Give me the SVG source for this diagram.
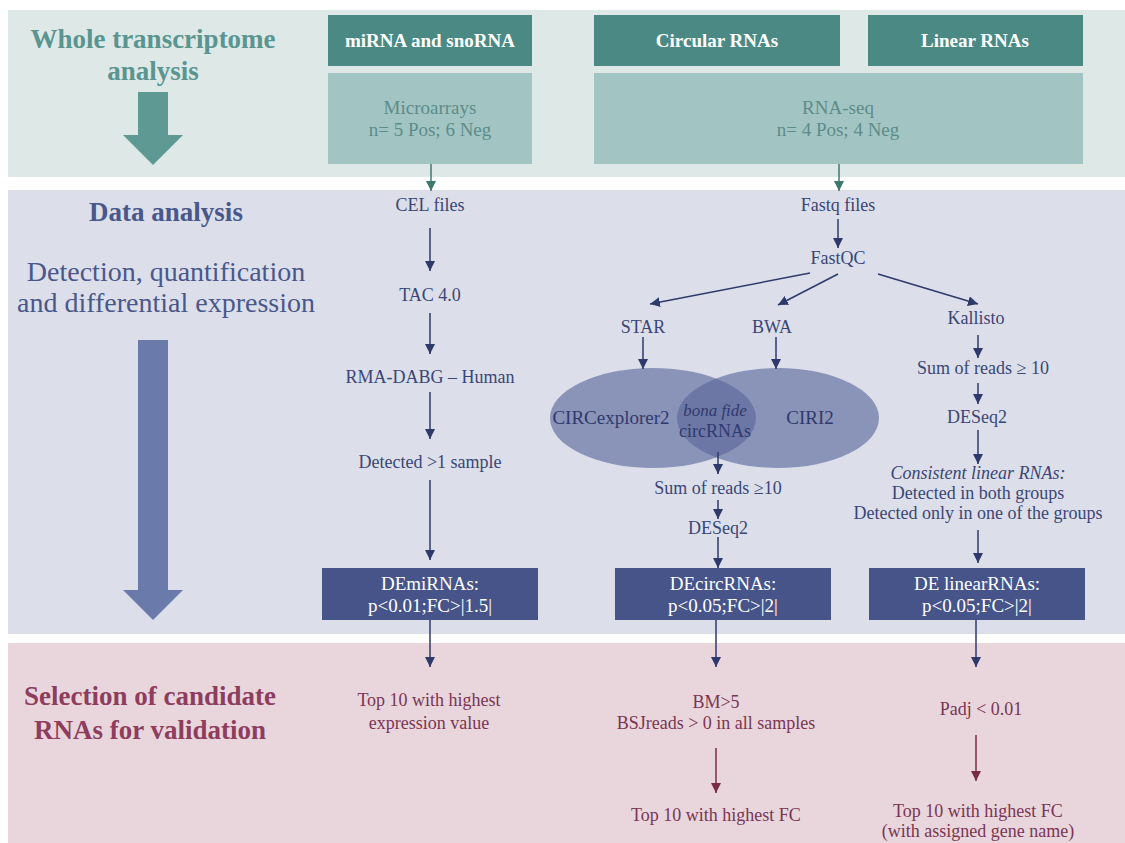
<svg xmlns="http://www.w3.org/2000/svg" width="1125" height="843" viewBox="0 0 1125 843">
<style>
text{font-family:"Liberation Serif","Times New Roman",serif;text-anchor:middle;}
.hdr{fill:#4b8a84;}
.sub{fill:#a2c5c3;}
.hdrt{fill:#ffffff;font-weight:bold;font-size:19px;}
.subt{fill:#5d8c89;font-size:19px;}
.bt{fill:#3a4676;font-size:18px;}
.pt{fill:#7a3552;font-size:18px;}
.de{fill:#46548a;}
.det{fill:#ffffff;font-size:19px;}
.ab{stroke:#2e3a6b;stroke-width:1.5;fill:none;marker-end:url(#mb);}
.ag{stroke:#3d7a6e;stroke-width:1.5;fill:none;marker-end:url(#mg);}
.am{stroke:#7b2c45;stroke-width:1.5;fill:none;marker-end:url(#mm);}
.ell{fill:#5b679c;fill-opacity:0.63;}
</style>
<defs>
<marker id="mb" markerUnits="userSpaceOnUse" markerWidth="10" markerHeight="10" refX="10" refY="5" orient="auto"><path d="M0,0 L10,5 L0,10 z" fill="#2e3a6b"/></marker>
<marker id="mg" markerUnits="userSpaceOnUse" markerWidth="10" markerHeight="10" refX="10" refY="5" orient="auto"><path d="M0,0 L10,5 L0,10 z" fill="#3d7a6e"/></marker>
<marker id="mm" markerUnits="userSpaceOnUse" markerWidth="10" markerHeight="10" refX="10" refY="5" orient="auto"><path d="M0,0 L10,5 L0,10 z" fill="#7b2c45"/></marker>
</defs>
<rect width="1125" height="843" fill="#ffffff"/>
<!-- bands -->
<g id="band-top">
<rect x="8" y="10" width="1117" height="167" fill="#dde8e7"/>
<text x="153" y="48" font-size="27" font-weight="bold" fill="#5a9590">Whole transcriptome</text>
<text x="153" y="80" font-size="27" font-weight="bold" fill="#5a9590">analysis</text>
<path d="M138,92 H168 V135 H183 L153,165 L123,135 H138 Z" fill="#5e9994"/>
</g>
<g id="band-mid">
<rect x="8" y="190" width="1117" height="444" fill="#dcdfea"/>
<text x="166" y="221" font-size="27" font-weight="bold" fill="#4a578a">Data analysis</text>
<text x="166" y="281" font-size="28" fill="#4a578a">Detection, quantification</text>
<text x="166" y="312" font-size="28" fill="#4a578a">and differential expression</text>
<path d="M138,340 H168 V590 H183 L153,620 L123,590 H138 Z" fill="#6a7aaa"/>
</g>
<g id="band-bot">
<rect x="8" y="643" width="1117" height="200" fill="#e9d6dd"/>
<text x="150" y="705" font-size="27" font-weight="bold" fill="#8e3d5c">Selection of candidate</text>
<text x="150" y="739" font-size="27" font-weight="bold" fill="#8e3d5c">RNAs for validation</text>
</g>
<!-- header nodes -->
<g id="h-mirna"><rect class="hdr" x="328" y="15" width="204" height="51"/><text class="hdrt" x="430" y="47">miRNA and snoRNA</text></g>
<g id="h-circ"><rect class="hdr" x="594" y="15" width="246" height="51"/><text class="hdrt" x="717" y="47">Circular RNAs</text></g>
<g id="h-lin"><rect class="hdr" x="868" y="15" width="215" height="51"/><text class="hdrt" x="975" y="47">Linear RNAs</text></g>
<g id="microarrays"><rect class="sub" x="328" y="73" width="204" height="91"/><text class="subt" x="430" y="114">Microarrays</text><text class="subt" x="430" y="136">n= 5 Pos; 6 Neg</text></g>
<g id="rnaseq"><rect class="sub" x="594" y="73" width="489" height="91"/><text class="subt" x="838" y="114">RNA-seq</text><text class="subt" x="838" y="136">n= 4 Pos; 4 Neg</text></g>
<!-- venn -->
<g id="venn">
<ellipse class="ell" cx="653" cy="418" rx="103" ry="50"/>
<ellipse class="ell" cx="778" cy="418" rx="101" ry="50"/>
<text x="611" y="424" font-size="19" fill="#2f3a6e">CIRCexplorer2</text>
<text x="715" y="416" font-size="17" font-style="italic" fill="#2f3a6e">bona fide</text>
<text x="715" y="437" font-size="18" fill="#2f3a6e">circRNAs</text>
<text x="810" y="424" font-size="19" fill="#2f3a6e">CIRI2</text>
</g>
<!-- microarray column -->
<g id="cel"><text class="bt" x="430" y="211">CEL files</text></g>
<g id="tac"><text class="bt" x="430" y="301">TAC 4.0</text></g>
<g id="rma"><text class="bt" x="430" y="383">RMA-DABG – Human</text></g>
<g id="detected"><text class="bt" x="430" y="468" font-size="17">Detected &gt;1 sample</text></g>
<g id="demirna"><rect class="de" x="322" y="568" width="216" height="52"/><text class="det" x="430" y="590">DEmiRNAs:</text><text class="det" x="430" y="612">p&lt;0.01;FC&gt;|1.5|</text></g>
<g id="top10-mi"><text class="pt" x="429" y="706">Top 10 with highest</text><text class="pt" x="429" y="729">expression value</text></g>
<!-- RNA-seq column -->
<g id="fastq"><text class="bt" x="838" y="211">Fastq files</text></g>
<g id="fastqc"><text class="bt" x="838" y="264">FastQC</text></g>
<g id="star"><text class="bt" x="643" y="333">STAR</text></g>
<g id="bwa"><text class="bt" x="772" y="333">BWA</text></g>
<g id="kallisto"><text class="bt" x="976" y="324">Kallisto</text></g>
<g id="sum-c"><text class="bt" x="718" y="494">Sum of reads ≥10</text></g>
<g id="deseq-c"><text class="bt" x="718" y="534">DESeq2</text></g>
<g id="decirc"><rect class="de" x="615" y="568" width="216" height="52"/><text class="det" x="723" y="590">DEcircRNAs:</text><text class="det" x="723" y="612">p&lt;0.05;FC&gt;|2|</text></g>
<g id="bm"><text class="pt" x="716" y="708">BM&gt;5</text><text class="pt" x="716" y="729">BSJreads &gt; 0 in all samples</text></g>
<g id="top10-c"><text class="pt" x="716" y="821">Top 10 with highest FC</text></g>
<g id="sum-l"><text class="bt" x="983" y="374">Sum of reads  ≥  10</text></g>
<g id="deseq-l"><text class="bt" x="977" y="423">DESeq2</text></g>
<g id="consistent"><text class="bt" x="978" y="479" font-style="italic">Consistent linear RNAs:</text><text class="bt" x="978" y="499">Detected in both groups</text><text class="bt" x="978" y="519">Detected only in one of the groups</text></g>
<g id="delin"><rect class="de" x="869" y="568" width="216" height="52"/><text class="det" x="977" y="590">DE linearRNAs:</text><text class="det" x="977" y="612">p&lt;0.05;FC&gt;|2|</text></g>
<g id="padj"><text class="pt" x="981" y="715">Padj &lt; 0.01</text></g>
<g id="top10-l"><text class="pt" x="978" y="817">Top 10 with highest FC</text><text class="pt" x="978" y="837">(with assigned gene name)</text></g>
<!-- connectors -->
<g id="connectors">
<line class="ag" x1="431" y1="164" x2="431" y2="191"/>
<line class="ag" x1="839" y1="164" x2="839" y2="191"/>
<line class="ab" x1="430" y1="228" x2="430" y2="271"/>
<line class="ab" x1="430" y1="313" x2="430" y2="354"/>
<line class="ab" x1="430" y1="392" x2="430" y2="439"/>
<line class="ab" x1="430" y1="480" x2="430" y2="560"/>
<line class="ab" x1="430" y1="620" x2="430" y2="667"/>
<line class="ab" x1="838" y1="219" x2="838" y2="248"/>
<line class="ab" x1="810" y1="273" x2="650" y2="304"/>
<line class="ab" x1="838" y1="274" x2="778" y2="305"/>
<line class="ab" x1="878" y1="274" x2="978" y2="304"/>
<line class="ab" x1="643" y1="337" x2="643" y2="369"/>
<line class="ab" x1="776" y1="337" x2="776" y2="369"/>
<line class="ab" x1="718" y1="452" x2="718" y2="474"/>
<line class="ab" x1="718" y1="500" x2="718" y2="519"/>
<line class="ab" x1="718" y1="537" x2="718" y2="568"/>
<line class="ab" x1="716" y1="620" x2="716" y2="667"/>
<line class="am" x1="716" y1="748" x2="716" y2="793"/>
<line class="ab" x1="978" y1="335" x2="978" y2="358"/>
<line class="ab" x1="978" y1="383" x2="978" y2="404"/>
<line class="ab" x1="978" y1="430" x2="978" y2="464"/>
<line class="ab" x1="978" y1="530" x2="978" y2="563"/>
<line class="ab" x1="976" y1="620" x2="976" y2="667"/>
<line class="am" x1="976" y1="735" x2="976" y2="781"/>
</g>
</svg>
